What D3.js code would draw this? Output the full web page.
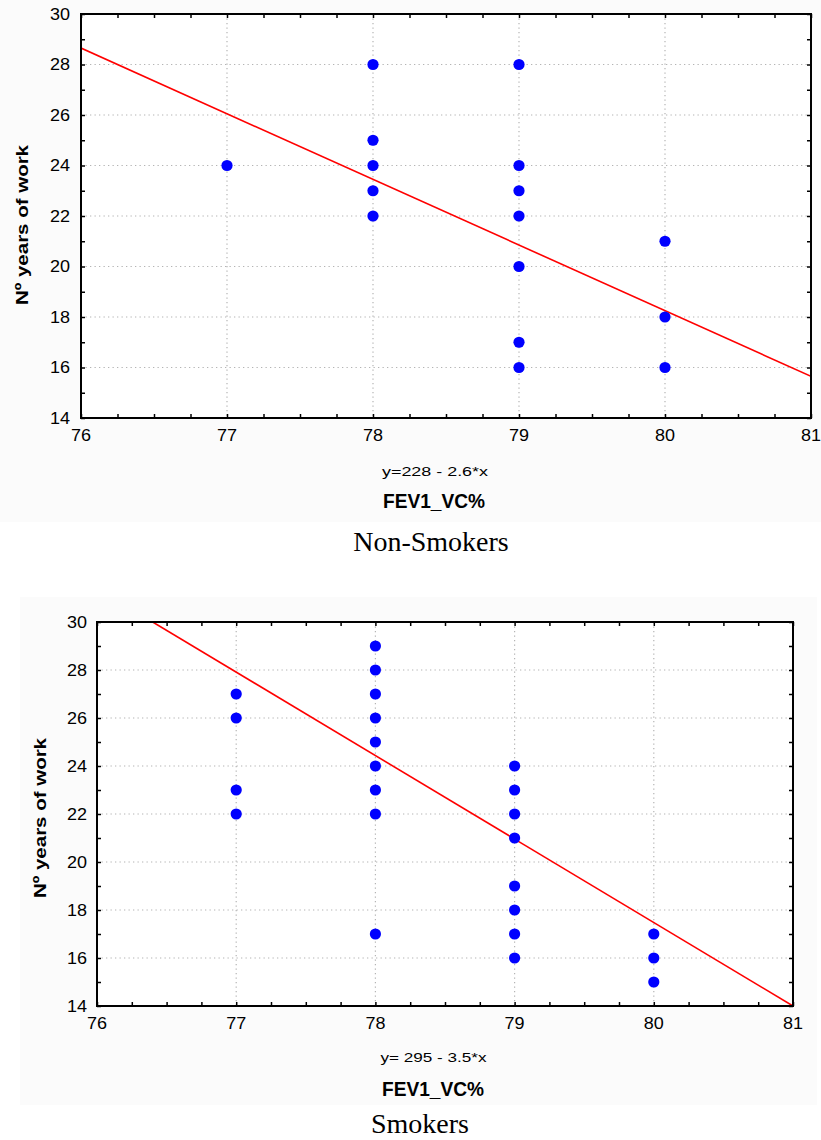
<!DOCTYPE html>
<html>
<head>
<meta charset="utf-8">
<script src="https://cdn.jsdelivr.net/npm/d3@7"></script>
<style>
  html, body { margin: 0; padding: 0; background: #ffffff; }
  svg { display: block; }
  text { font-family: "Liberation Sans", Arial, sans-serif; fill: #000; }
</style>
</head>
<body>
<svg id="chart" width="821" height="1140"></svg>
<script>
// ---------- data ----------
const xTicks = [76, 77, 78, 79, 80, 81];
const yTicks = [14, 16, 18, 20, 22, 24, 26, 28, 30];

const nonSmokersX = [77, 78, 78, 78, 78, 78, 79, 79, 79, 79, 79, 79, 79, 80, 80, 80];
const nonSmokersY = [24, 28, 25, 24, 23, 22, 28, 24, 23, 22, 20, 17, 16, 21, 18, 16];
const nonSmokersFitX = [76, 81];
const nonSmokersFitY = [28.65, 15.65];

const smokersX = [77, 77, 77, 77, 78, 78, 78, 78, 78, 78, 78, 78, 78, 79, 79, 79, 79, 79, 79, 79, 79, 80, 80, 80];
const smokersY = [27, 26, 23, 22, 29, 28, 27, 26, 25, 24, 23, 22, 17, 24, 23, 22, 21, 19, 18, 17, 16, 17, 16, 15];
const smokersFitX = [76.4, 81];
const smokersFitY = [30, 14.0];

const yTitle = "Nº years of work";
const xTitle = "FEV1_VC%";
const nonSmokersEquation = "y=228 - 2.6*x";
const smokersEquation = "y= 295 - 3.5*x";
const nonSmokersCaption = "Non-Smokers";
const smokersCaption = "Smokers";

// ---------- layout ----------
const svg = d3.select("#chart");

const panels = [
  {
    id: "ns", xs: nonSmokersX, ys: nonSmokersY, fx: nonSmokersFitX, fy: nonSmokersFitY,
    eq: nonSmokersEquation, caption: nonSmokersCaption,
    bg: {x: 0, y: 0, w: 821, h: 522},
    plot: {l: 81, t: 14, r: 811, b: 418},
    yLabelRight: 70, yTitleX: 27.5, yTitleY: 225,
    eqX: 435, eqY: 476, xtX: 434, xtY: 508, capX: 431, capY: 551
  },
  {
    id: "s", xs: smokersX, ys: smokersY, fx: smokersFitX, fy: smokersFitY,
    eq: smokersEquation, caption: smokersCaption,
    bg: {x: 20, y: 597, w: 797, h: 508},
    plot: {l: 97, t: 622, r: 793, b: 1006},
    yLabelRight: 87, yTitleX: 46, yTitleY: 818,
    eqX: 433.5, eqY: 1062, xtX: 433, xtY: 1096, capX: 420, capY: 1133
  }
];

panels.forEach(p => {
  const g = svg.append("g");
  g.append("rect")
    .attr("x", p.bg.x).attr("y", p.bg.y).attr("width", p.bg.w).attr("height", p.bg.h)
    .attr("fill", "#fbfbfb");

  const x = d3.scaleLinear().domain([xTicks[0], xTicks[xTicks.length - 1]]).range([p.plot.l, p.plot.r]);
  const y = d3.scaleLinear().domain([yTicks[0], yTicks[yTicks.length - 1]]).range([p.plot.b, p.plot.t]);

  // clip
  svg.append("defs").append("clipPath").attr("id", "clip-" + p.id)
    .append("rect").attr("x", p.plot.l).attr("y", p.plot.t)
    .attr("width", p.plot.r - p.plot.l).attr("height", p.plot.b - p.plot.t);

  // plot background
  g.append("rect").attr("x", p.plot.l).attr("y", p.plot.t)
    .attr("width", p.plot.r - p.plot.l).attr("height", p.plot.b - p.plot.t)
    .attr("fill", "#ffffff");

  // gridlines
  const grid = g.append("g").attr("stroke", "#b4b4b4").attr("stroke-width", 1.2)
    .attr("stroke-dasharray", "1.3,3.2");
  xTicks.slice(1, -1).forEach(v => {
    grid.append("line").attr("x1", x(v)).attr("x2", x(v)).attr("y1", p.plot.t).attr("y2", p.plot.b);
  });
  yTicks.slice(1, -1).forEach(v => {
    grid.append("line").attr("x1", p.plot.l).attr("x2", p.plot.r).attr("y1", y(v)).attr("y2", y(v));
  });

  // minor ticks via d3 axes (inward)
  const xMinor = d3.range(xTicks[0], xTicks[xTicks.length - 1] + 0.001, 0.25);
  const yMinor = d3.range(yTicks[0], yTicks[yTicks.length - 1] + 0.001, 1);
  const tickLen = 4;
  const styleAxis = sel => {
    sel.select(".domain").remove();
    sel.selectAll(".tick line").attr("stroke", "#000").attr("stroke-width", 1.5);
    sel.selectAll(".tick text").remove();
  };
  g.append("g").attr("transform", `translate(0,${p.plot.b})`)
    .call(d3.axisBottom(x).tickValues(xMinor).tickSize(-tickLen).tickFormat(""))
    .call(styleAxis);
  g.append("g").attr("transform", `translate(0,${p.plot.t})`)
    .call(d3.axisTop(x).tickValues(xMinor).tickSize(-tickLen).tickFormat(""))
    .call(styleAxis);
  g.append("g").attr("transform", `translate(${p.plot.l},0)`)
    .call(d3.axisLeft(y).tickValues(yMinor).tickSize(-tickLen).tickFormat(""))
    .call(styleAxis);
  g.append("g").attr("transform", `translate(${p.plot.r},0)`)
    .call(d3.axisRight(y).tickValues(yMinor).tickSize(-tickLen).tickFormat(""))
    .call(styleAxis);

  // fit line
  const line = d3.line().x(d => x(d[0])).y(d => y(d[1]));
  g.append("path")
    .datum(p.fx.map((v, i) => [v, p.fy[i]]))
    .attr("d", line)
    .attr("clip-path", `url(#clip-${p.id})`)
    .attr("fill", "none").attr("stroke", "#ff0000").attr("stroke-width", 1.6);

  // points
  g.append("g").selectAll("circle")
    .data(p.xs.map((v, i) => [v, p.ys[i]]))
    .join("circle")
    .attr("cx", d => x(d[0])).attr("cy", d => y(d[1]))
    .attr("r", 5.6).attr("fill", "#0000ff");

  // frame
  g.append("rect").attr("x", p.plot.l).attr("y", p.plot.t)
    .attr("width", p.plot.r - p.plot.l).attr("height", p.plot.b - p.plot.t)
    .attr("fill", "none").attr("stroke", "#000").attr("stroke-width", 2);

  // tick labels
  g.append("g").selectAll("text").data(xTicks).join("text")
    .attr("x", d => x(d)).attr("y", p.plot.b + 23)
    .attr("text-anchor", "middle").attr("font-size", 16)
    .attr("textLength", 20).attr("lengthAdjust", "spacingAndGlyphs")
    .text(d => d);
  g.append("g").selectAll("text").data(yTicks).join("text")
    .attr("x", p.yLabelRight - 20).attr("y", d => y(d) + 5.7)
    .attr("text-anchor", "start").attr("font-size", 16)
    .attr("textLength", 20).attr("lengthAdjust", "spacingAndGlyphs")
    .text(d => d);

  // y title
  g.append("text")
    .attr("transform", `translate(${p.yTitleX},${p.yTitleY}) rotate(-90)`)
    .attr("text-anchor", "middle").attr("font-size", 17).attr("font-weight", "bold")
    .attr("textLength", 160).attr("lengthAdjust", "spacingAndGlyphs")
    .text(yTitle);

  // equation
  g.append("text")
    .attr("x", p.eqX).attr("y", p.eqY)
    .attr("text-anchor", "middle").attr("font-size", 13)
    .attr("textLength", 106).attr("lengthAdjust", "spacingAndGlyphs")
    .text(p.eq);

  // x title
  g.append("text")
    .attr("x", p.xtX).attr("y", p.xtY)
    .attr("text-anchor", "middle").attr("font-size", 20).attr("font-weight", "bold")
    .attr("textLength", 102).attr("lengthAdjust", "spacingAndGlyphs")
    .text(xTitle);

  // caption
  svg.append("text")
    .attr("x", p.capX).attr("y", p.capY)
    .attr("text-anchor", "middle").attr("font-size", 28)
    .style("font-family", "'Liberation Serif', 'Times New Roman', serif")
    .text(p.caption);
});
</script>
</body>
</html>
